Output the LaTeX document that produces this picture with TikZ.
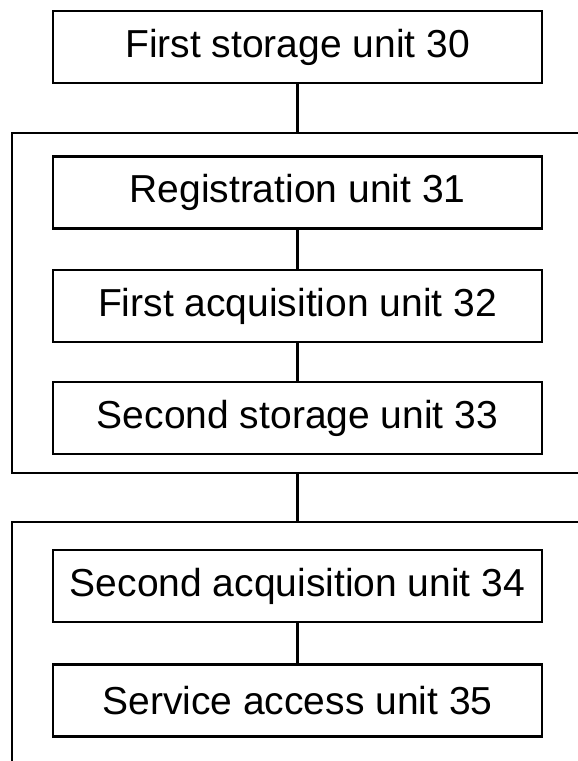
\documentclass[tikz,border=0pt]{standalone}
\usepackage{fontspec}
\setmainfont{Liberation Sans}
\begin{document}
\begin{tikzpicture}[x=1pt,y=-1pt,
  unitbox/.style={draw, line width=2.4pt, minimum width=489pt, minimum height=72pt, inner sep=0pt, font=\fontsize{39}{46}\selectfont},
  link/.style={line width=2.4pt},
  frame/.style={line width=2.8pt}]
\useasboundingbox (0,0) rectangle (578,761);
\node[unitbox] (n30) at (297.5,47) {First storage unit 30};
\node[unitbox] (n31) at (297.5,192.5) {Registration unit 31};
\node[unitbox] (n32) at (297.5,306) {First acquisition unit 32};
\node[unitbox] (n33) at (297.5,418) {Second storage unit 33};
\node[unitbox] (n34) at (297.5,586) {Second acquisition unit 34};
\node[unitbox] (n35) at (297.5,700.5) {Service access unit 35};
% outer frames
\coordinate (f1tr) at (580,133);
\coordinate (f1tl) at (12,133);
\coordinate (f1bl) at (12,473);
\coordinate (f1br) at (580,473);
\coordinate (f2tr) at (580,522);
\coordinate (f2tl) at (12,522);
\coordinate (f2bl) at (12,763);
\draw[frame] (f1tr) -- (f1tl) -- (f1bl) -- (f1br);
\draw[frame] (f2tr) -- (f2tl) -- (f2bl);
\coordinate (c1) at (n30.south |- f1tl);
\coordinate (c2) at (n33.south |- f1bl);
\coordinate (c3) at (n34.north |- f2tl);
\draw[link] (n30.south) -- (c1);
\draw[link] (n31.south) -- (n32.north);
\draw[link] (n32.south) -- (n33.north);
\draw[link] (c2) -- (c3);
\draw[link] (n34.south) -- (n35.north);
\end{tikzpicture}
\end{document}
